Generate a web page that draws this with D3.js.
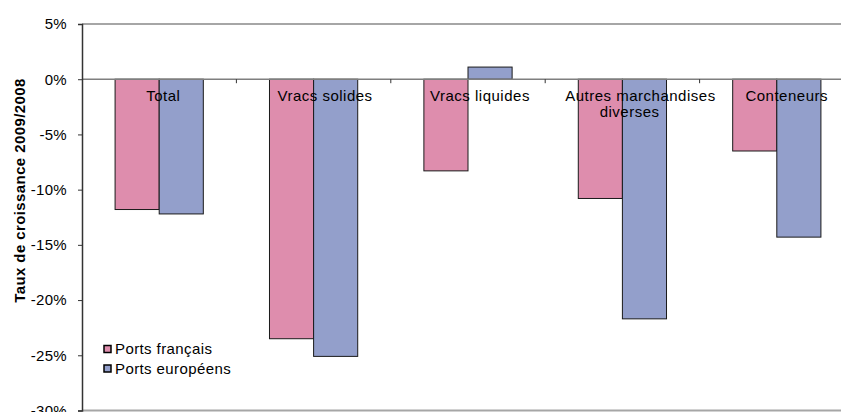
<!DOCTYPE html>
<html><head><meta charset="utf-8">
<script src="https://cdn.jsdelivr.net/npm/d3@7"></script>
<style>
html,body{margin:0;padding:0;background:#fff;}
svg{display:block;font-family:"Liberation Sans",Arial,sans-serif;}
</style></head>
<body>
<svg id="chart" width="841" height="412"></svg>
<script>
const categories = [["Total"], ["Vracs solides"], ["Vracs liquides"], ["Autres marchandises", "diverses"], ["Conteneurs"]];
const seriesNames = ["Ports français", "Ports européens"];
const portsFrancais = [-11.8, -23.5, -8.3, -10.8, -6.5];
const portsEuropeens = [-12.2, -25.1, 1.1, -21.7, -14.3];
const yTicks = [5, 0, -5, -10, -15, -20, -25, -30];
const colors = ["#de8dad", "#939fcb"];

const svg = d3.select("#chart");
const mLeft = 82, mRight = 854, mTop = 24, mBottom = 410.5;

const x = d3.scaleBand().domain(d3.range(categories.length)).range([mLeft, mRight]).paddingInner(0).paddingOuter(0);
const xs = d3.scaleBand().domain([0, 1]).range([0, x.bandwidth()]).paddingInner(0).paddingOuter(0.75);
const y = d3.scaleLinear().domain([-30, 5]).range([mBottom, mTop]);

// top & bottom border lines
svg.append("line").attr("x1", mLeft).attr("x2", 841).attr("y1", y(5)).attr("y2", y(5))
  .attr("stroke", "#a6a6a6").attr("stroke-width", 2);
svg.append("line").attr("x1", mLeft).attr("x2", 841).attr("y1", y(-30)).attr("y2", y(-30))
  .attr("stroke", "#a6a6a6").attr("stroke-width", 2);

// bars
const data = [portsFrancais, portsEuropeens];
data.forEach((vals, si) => {
  svg.append("g").selectAll("rect").data(vals).join("rect")
    .attr("x", (d, i) => x(i) + xs(si))
    .attr("width", xs.bandwidth())
    .attr("y", d => y(Math.max(0, d)))
    .attr("height", d => Math.abs(y(d) - y(0)))
    .attr("fill", colors[si])
    .attr("stroke", "#1a1a1a").attr("stroke-width", 1);
});

// zero axis line
svg.append("line").attr("x1", mLeft).attr("x2", 841).attr("y1", y(0)).attr("y2", y(0))
  .attr("stroke", "#7f7f7f").attr("stroke-width", 1.6);
// category ticks
svg.append("g").selectAll("line").data(d3.range(1, categories.length)).join("line")
  .attr("x1", i => x(i)).attr("x2", i => x(i))
  .attr("y1", y(0)).attr("y2", y(0) + 4)
  .attr("stroke", "#333").attr("stroke-width", 1);

// y axis
const yAxis = d3.axisLeft(y).tickValues(yTicks).tickSize(4).tickPadding(11)
  .tickFormat(d => d + "%");
const gy = svg.append("g").attr("transform", `translate(${mLeft},0)`).call(yAxis);
gy.select(".domain").attr("stroke", "#333").attr("stroke-width", 1.5);
gy.selectAll(".tick line").attr("stroke", "#333");
gy.selectAll(".tick text").attr("font-size", 15).attr("fill", "#000")
  .attr("font-family", "'Liberation Sans', Arial, sans-serif").style("letter-spacing", "0.3px");

// y label
svg.append("text").attr("transform", `translate(25,190.5) rotate(-90)`)
  .attr("text-anchor", "middle").attr("font-size", 15).attr("font-weight", "bold")
  .style("letter-spacing", "0.4px").text("Taux de croissance 2009/2008");

// category labels
categories.forEach((lines, i) => {
  lines.forEach((ln, li) => {
    const t = svg.append("text").attr("font-size", 15).style("letter-spacing", "0.5px")
      .attr("y", y(0) + 22 + li * 16).text(ln);
    const w = t.node().getComputedTextLength();
    t.attr("x", x(i) + x.bandwidth() / 2 - 0.38 * w);
  });
});

// legend
const lg = svg.append("g");
seriesNames.forEach((n, i) => {
  const cy = 349 + i * 19.5;
  lg.append("rect").attr("x", 104).attr("y", cy - 3.5).attr("width", 7).attr("height", 7)
    .attr("fill", colors[i]).attr("stroke", "#000").attr("stroke-width", 1.5);
  lg.append("text").attr("x", 115).attr("y", cy + 5).attr("font-size", 15)
    .style("letter-spacing", "0.4px").text(n);
});
</script>
</body></html>
